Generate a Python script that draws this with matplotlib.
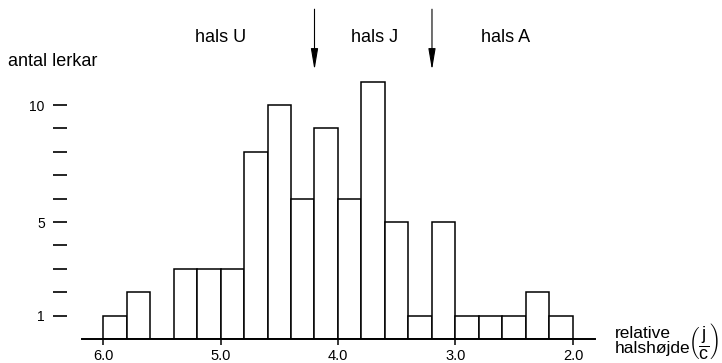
import matplotlib
matplotlib.use('Agg')
import matplotlib.pyplot as plt

plt.rcParams['font.family'] = ['Liberation Sans', 'DejaVu Sans']
plt.rcParams['mathtext.fontset'] = 'custom'
plt.rcParams['mathtext.rm'] = 'Liberation Sans'

# histogram of relative neck height, bins of 0.2 (lower edge of each bin)
bin_low = [5.8, 5.6, 5.4, 5.2, 5.0, 4.8, 4.6, 4.4, 4.2, 4.0,
           3.8, 3.6, 3.4, 3.2, 3.0, 2.8, 2.6, 2.4, 2.2, 2.0]
counts  = [1, 2, 0, 3, 3, 3, 8, 10, 6, 9,
           6, 11, 5, 1, 5, 1, 1, 1, 2, 1]
bin_width = 0.2

x_ticks  = [6.0, 5.0, 4.0, 3.0, 2.0]
y_ticks  = [1, 2, 3, 4, 5, 6, 7, 8, 9, 10]
y_labels = ['1', '', '', '', '5', '', '', '', '', '10']

# group boundaries (arrows) and group names
boundaries  = [4.2, 3.2]
groups      = ['hals U', 'hals J', 'hals A']
group_x     = [5.0, 3.69, 2.57]

fig = plt.figure(figsize=(7.22, 3.63), dpi=100)
ax  = fig.add_axes([0.1134, 0.0661, 0.7111, 0.741])

ax.bar(bin_low, counts, width=bin_width, align='edge',
       facecolor='white', edgecolor='black', linewidth=1.1, zorder=2)

ax.set_xlim(6.18, 1.81)
ax.set_ylim(0, 11.5)

for side in ['top', 'right']:
    ax.spines[side].set_visible(False)
ax.spines['left'].set_visible(False)
ax.spines['left'].set_position(('outward', 10.7))
ax.spines['bottom'].set_linewidth(1.4)
ax.spines['bottom'].set_zorder(3)

ax.set_xticks(x_ticks)
ax.set_xticklabels([f'{v:.1f}' for v in x_ticks], fontsize=10.5)
ax.tick_params(axis='x', direction='out', length=4.5, width=1.1, pad=3)

ax.set_yticks(y_ticks)
ax.set_yticklabels(y_labels, fontsize=10)
ax.tick_params(axis='y', direction='out', length=10, width=1.2, pad=6)

for b in boundaries:
    ax.annotate('', xy=(b, 11.5), xytext=(b, 14.1),
                arrowprops=dict(arrowstyle='-|>,head_length=1.3,head_width=0.22',
                                mutation_scale=10, color='black', lw=0.8,
                                shrinkA=0, shrinkB=0),
                annotation_clip=False)

for name, gx in zip(groups, group_x):
    ax.text(gx, 12.9, name, ha='center', va='center', fontsize=13)

fig.text(8 / 722, 1 - 61 / 363, 'antal lerkar', ha='left', va='center', fontsize=13)

fig.text(615 / 722, 1 - 341 / 363, 'relative\nhalshøjde', ha='left', va='center',
         fontsize=12.5, linespacing=0.95)
fig.text(688 / 722, 1 - 341 / 363, r'$\left(\dfrac{\mathrm{j}}{\mathrm{c}}\right)$',
         ha='left', va='center', fontsize=13)

fig.savefig('out.png', dpi=100, facecolor='white')
